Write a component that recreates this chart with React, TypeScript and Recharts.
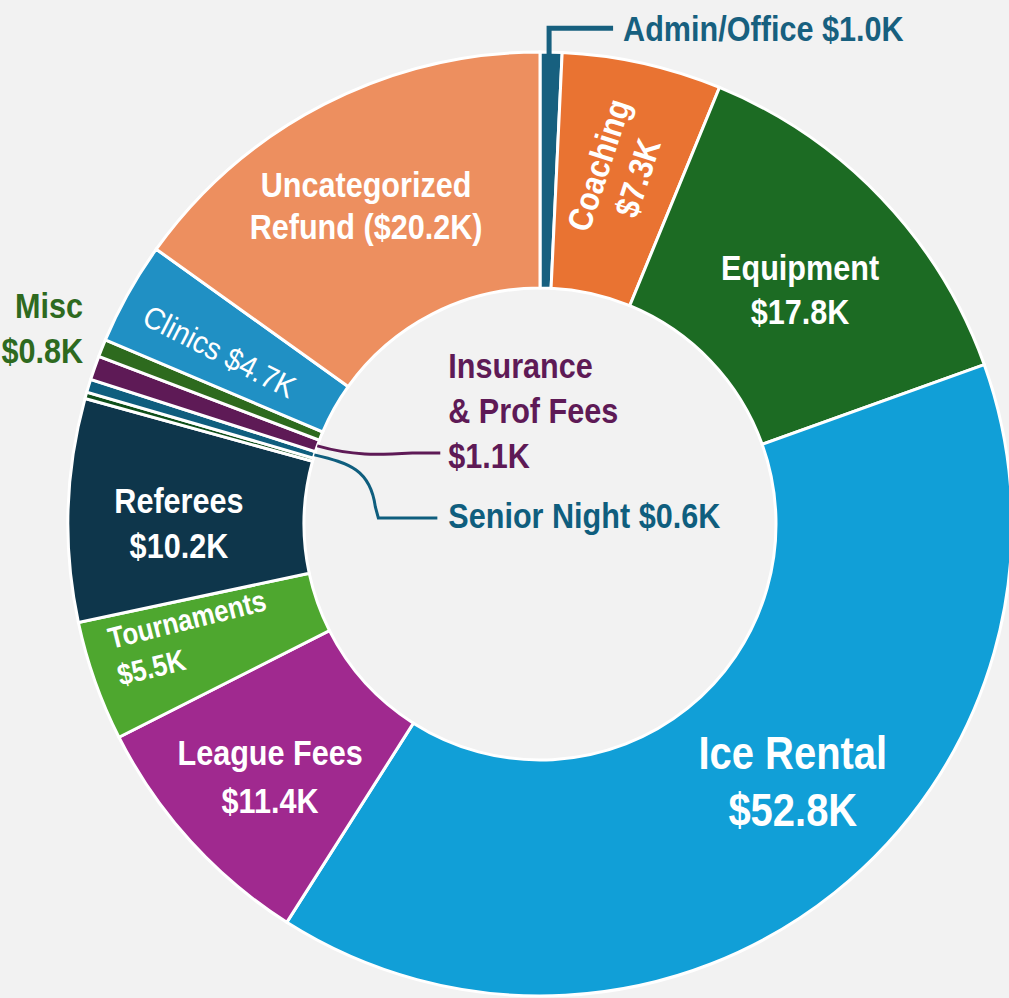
import { PieChart, Pie, Cell } from 'recharts'

const categories = [
  'Admin/Office',
  'Coaching',
  'Equipment',
  'Ice Rental',
  'League Fees',
  'Tournaments',
  'Referees',
  'Other',
  'Senior Night',
  'Insurance & Prof Fees',
  'Misc',
  'Clinics',
  'Uncategorized Refund',
]
const amounts = [1.0, 7.3, 17.8, 52.8, 11.4, 5.5, 10.2, 0.3, 0.6, 1.1, 0.8, 4.7, 20.2]
const sliceColors = [
  '#17607f',
  '#e97332',
  '#1c6b23',
  '#119fd7',
  '#a0298f',
  '#4ea72f',
  '#0e364b',
  '#0f4f1a',
  '#0f5e7e',
  '#5e1a56',
  '#2d6a1e',
  '#2090c4',
  '#ed8f5f',
]

const data = categories.map((name, i) => ({ name, value: amounts[i] }))

const fmt = (v: number) => `$${v.toFixed(1)}K`
const RAD = Math.PI / 180
// no narrow font installed, so squeeze Liberation Sans to look like Arial Narrow
const FONT = "'Liberation Sans', Arial, sans-serif"
const SQUEEZE = 0.85

interface Spot {
  t: number
  turn: number
  size: number
  lineH: number
  rotate?: number
  bold?: boolean
  squeeze?: number
  align?: 'middle' | 'start'
  shiftX?: number
  lines: (v: number) => string[]
}

// labels drawn inside their slice
const inside: Record<string, Spot> = {
  'Uncategorized Refund': { t: 0.54, turn: 1.4, size: 36, lineH: 42, bold: true, lines: v => ['Uncategorized', `Refund (${fmt(v)})`] },
  Coaching: { t: 0.53, turn: 0, size: 34, lineH: 41, rotate: -72, bold: true, squeeze: 0.88, lines: v => ['Coaching', fmt(v)] },
  Equipment: { t: 0.485, turn: -1.6, size: 36, lineH: 44, bold: true, lines: v => ['Equipment', fmt(v)] },
  'Ice Rental': { t: 0.53, turn: 5.8, size: 47, lineH: 57, bold: true, lines: v => ['Ice Rental', fmt(v)] },
  'League Fees': { t: 0.564, turn: 0.8, size: 36, lineH: 48, bold: true, lines: v => ['League Fees', fmt(v)] },
  Tournaments: { t: 0.547, turn: -1.4, size: 30, lineH: 38, rotate: -14, bold: true, squeeze: 0.86, align: 'start', shiftX: -82, lines: v => ['Tournaments', fmt(v)] },
  Referees: { t: 0.53, turn: 1.5, size: 36, lineH: 45, bold: true, lines: v => ['Referees', fmt(v)] },
  Clinics: { t: 0.542, turn: 0.9, size: 31, lineH: 34, rotate: 27, squeeze: 0.92, lines: v => [`Clinics ${fmt(v)}`] },
}

function polar(cx: number, cy: number, r: number, angle: number) {
  return { x: cx + r * Math.cos(-angle * RAD), y: cy + r * Math.sin(-angle * RAD) }
}

interface NarrowTextProps {
  x: number
  y: number
  lines: string[]
  lineH: number
  size: number
  fill: string
  bold?: boolean
  rotate?: number
  shiftX?: number
  squeeze?: number
  anchor?: 'start' | 'middle' | 'end'
}

// multi-line text, lines centred vertically on (x, y)
function NarrowText({ x, y, lines, lineH, size, fill, bold, rotate = 0, shiftX = 0, squeeze = SQUEEZE, anchor = 'middle' }: NarrowTextProps) {
  return (
    <g transform={`translate(${x},${y}) rotate(${rotate}) translate(${shiftX},0) scale(${squeeze},1)`}>
      <text
        fill={fill}
        fontSize={size}
        fontWeight={bold ? 700 : 400}
        fontFamily={FONT}
        textAnchor={anchor}
        dominantBaseline="central"
      >
        {lines.map((ln, i) => (
          <tspan key={i} x={0} y={(i - (lines.length - 1) / 2) * lineH}>{ln}</tspan>
        ))}
      </text>
    </g>
  )
}

function renderLabel(props: any) {
  const { cx, cy, midAngle, innerRadius, outerRadius, index } = props
  const name = categories[index]
  const v = amounts[index]
  const color = sliceColors[index]
  const spot = inside[name]

  if (spot) {
    const p = polar(cx, cy, innerRadius + spot.t * (outerRadius - innerRadius), midAngle + spot.turn)
    return (
      <NarrowText
        key={`lbl-${index}`}
        x={p.x}
        y={p.y}
        lines={spot.lines(v)}
        lineH={spot.lineH}
        size={spot.size}
        fill="#fff"
        bold={spot.bold}
        rotate={spot.rotate}
        shiftX={spot.shiftX}
        squeeze={spot.squeeze}
        anchor={spot.align ?? 'middle'}
      />
    )
  }

  if (name === 'Admin/Office') {
    const p = polar(cx, cy, outerRadius, midAngle)
    return (
      <g key={`lbl-${index}`}>
        <path d={`M${p.x - 2},${p.y + 4} V${p.y - 24} H${p.x + 62}`} stroke={color} strokeWidth={5} fill="none" />
        <NarrowText x={p.x + 72} y={p.y - 24} lines={[`${name} ${fmt(v)}`]} lineH={45} size={36} fill={color} bold anchor="start" />
      </g>
    )
  }

  if (name === 'Misc') {
    const p = polar(cx, cy, outerRadius, midAngle)
    return (
      <NarrowText
        key={`lbl-${index}`}
        x={p.x - 19}
        y={p.y - 21}
        lines={['Misc', fmt(v)]}
        lineH={45}
        size={36}
        fill="#2e6a1f"
        bold
        anchor="end"
      />
    )
  }

  if (name === 'Insurance & Prof Fees') {
    const p = polar(cx, cy, innerRadius, midAngle)
    const ex = p.x + 123
    const ey = p.y + 7
    return (
      <g key={`lbl-${index}`}>
        <path
          d={`M${p.x},${p.y} C${p.x + 35},${p.y + 10} ${p.x + 60},${p.y + 9} ${p.x + 95},${p.y + 7} L${ex},${ey}`}
          stroke={color}
          strokeWidth={3}
          fill="none"
        />
        <NarrowText x={ex + 8} y={ey - 43} lines={['Insurance', '& Prof Fees', fmt(v)]} lineH={45} size={36} fill={color} bold anchor="start" />
      </g>
    )
  }

  if (name === 'Senior Night') {
    const p = polar(cx, cy, innerRadius, midAngle)
    const ex = p.x + 123
    const ey = p.y + 63
    return (
      <g key={`lbl-${index}`}>
        <path
          d={`M${p.x},${p.y} C${p.x + 35},${p.y + 8} ${p.x + 56},${p.y + 15} ${p.x + 61},${p.y + 52} L${p.x + 64},${ey} L${ex},${ey}`}
          stroke={color}
          strokeWidth={3}
          fill="none"
        />
        <NarrowText x={ex + 11} y={ey - 3} lines={[`${name} ${fmt(v)}`]} lineH={45} size={36} fill={color} bold anchor="start" />
      </g>
    )
  }

  return <g key={`lbl-${index}`} />
}

export default function App() {
  return (
    <div style={{ position: 'absolute', left: 0, top: 0, width: 1009, height: 998, background: '#f2f2f2', overflow: 'hidden' }}>
      <PieChart width={1009} height={998} margin={{ top: 0, right: 0, bottom: 0, left: 0 }}>
        <Pie
          data={data}
          dataKey="value"
          nameKey="name"
          cx={540}
          cy={524}
          innerRadius={236}
          outerRadius={472}
          startAngle={90}
          endAngle={-270}
          stroke="#ffffff"
          strokeWidth={3}
          label={renderLabel}
          labelLine={false}
          isAnimationActive={false}
        >
          {data.map((d, i) => (
            <Cell key={`cell-${d.name}`} fill={sliceColors[i]} />
          ))}
        </Pie>
      </PieChart>
    </div>
  )
}
